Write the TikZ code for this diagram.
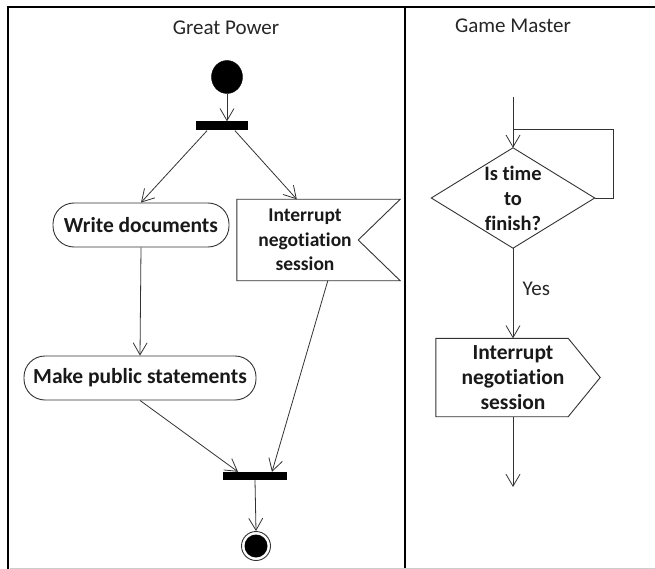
\documentclass[tikz,border=0pt]{standalone}
\usepackage{fontspec}
\setmainfont{Carlito}[Ligatures=NoCommon]
\usetikzlibrary{arrows.meta,calc,shapes.geometric}
\tikzset{
  lane/.style={line width=2.6pt, black},
  flow/.style={draw=black!80, line width=0.8pt, -{Straight Barb[length=12pt,width=14pt,line width=0.8pt]}},
  plain/.style={draw=black!80, line width=0.8pt},
  action/.style={draw=black!80, line width=0.9pt, rounded corners=21pt, minimum height=44pt,
    inner sep=0pt, font=\fontsize{21.5}{25}\selectfont\bfseries, text=black!90},
  boxtext/.style={inner sep=0pt, align=center, font=\fontsize{21.5}{25}\selectfont\bfseries, text=black!90},
  bar/.style={fill=black, inner sep=0pt, minimum height=9pt},
  title/.style={font=\fontsize{21}{24}\selectfont, text=black!85},
}
\begin{document}
\begin{tikzpicture}[x=1pt,y=-1pt]
\useasboundingbox (0,0) rectangle (655,569);
\fill[white] (0,0) rectangle (655,569);

% swimlane frame
\draw[lane] (8,569) -- (8,7) -- (655,7);
\draw[lane] (405,7) -- (405,569);
\draw[black!20, line width=1pt] (10,568) -- (655,568);

% lane titles
\node[title] (tgp) at (226,28) {Great Power};
\node[title] (tgm) at (513,26) {Game Master};

% ---- Great Power lane ----
\node[draw=black, fill=black, ellipse, minimum width=31pt, minimum height=33pt, inner sep=0pt] (start) at (227,77) {};
\node[bar, minimum width=52pt] (fork) at (222,126) {};
\draw[flow] (start.south) -- (start.south |- fork.north);

\node[action, minimum width=176pt] (write) at (141,225) {Write documents};
\node[action, minimum width=232pt] (make) at (140,378) {Make public statements};

% signal box with notched right side
\node[boxtext, minimum width=136pt, minimum height=81pt, font=\fontsize{19.5}{24.5}\selectfont\bfseries] (int1) at (305,240)
  {Interrupt\\negotiation\\session};
\draw[draw=black!80, line width=0.9pt]
  (int1.north west) -- ($(int1.north east)+(27,0)$) -- ($(int1.east)+(-15,0)$)
  -- ($(int1.south east)+(27,0)$) -- (int1.south west) -- cycle;

\draw[flow] ($(fork.south)+(-15,0)$) -- (write.north);
\draw[flow] ($(fork.south)+(13,0)$) -- ($(int1.north west)+(60,0)$);
\draw[flow] (write.south) -- (make.north);

\node[bar, minimum width=64pt, minimum height=8pt] (join) at (255,476) {};
\draw[flow] (make.south) -- ($(join.north)+(-17,0)$);
\draw[flow] ($(int1.south west)+(91,0)$) -- ($(join.north)+(17,0)$);

\node[circle, draw=black!80, line width=0.9pt, minimum size=29pt, inner sep=0pt] (final) at (256,546) {};
\fill[black] (final.center) circle (11.5pt);
\draw[flow] (join.south) -- (final.north);

% ---- Game Master lane ----
\coordinate (gmin) at (513,97);
\node[boxtext, minimum width=163pt, minimum height=100pt, font=\fontsize{20.5}{25}\selectfont\bfseries] (dec) at (513,198)
  {Is time\\to\\finish?};
\draw[draw=black!80, line width=0.9pt]
  (dec.north) -- (dec.east) -- (dec.south) -- (dec.west) -- cycle;
\coordinate (loopa) at (613,198);
\coordinate (loopb) at (613,129);
\coordinate (loopc) at (513,129);
\draw[plain] (dec.east) -- (loopa) -- (loopb) -- (loopc);
\draw[flow] (gmin) -- (dec.north);

\node[boxtext, minimum width=154pt, minimum height=78pt] (int2) at (513,377.5)
  {Interrupt\\negotiation\\session};
\draw[draw=black!80, line width=0.9pt]
  (int2.north west) -- ($(int2.north east)+(-22,0)$) -- ($(int2.east)+(10,0)$)
  -- ($(int2.south east)+(-22,0)$) -- (int2.south west) -- cycle;

\draw[flow] (dec.south) -- (int2.north)
  node[midway, right, xshift=6pt, yshift=4pt, font=\fontsize{21}{24}\selectfont, text=black!85] (yes) {Yes};

\coordinate (gmout) at (513,487);
\draw[flow] (int2.south) -- (gmout);
\end{tikzpicture}
\end{document}
